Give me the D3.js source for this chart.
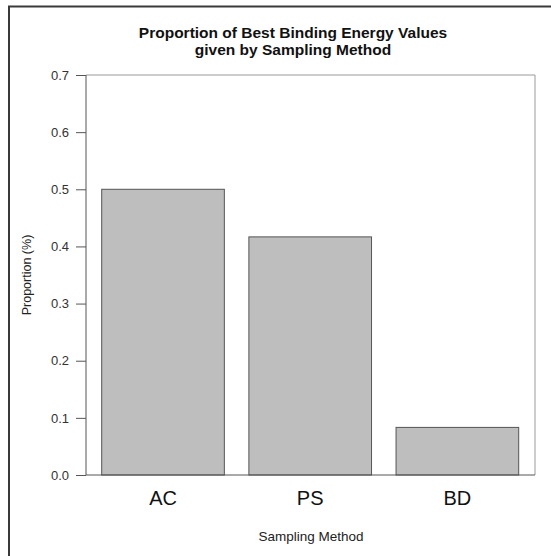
<!DOCTYPE html>
<html>
<head>
<meta charset="utf-8">
<script src="https://cdn.jsdelivr.net/npm/d3@7"></script>
<style>
  html, body { margin: 0; padding: 0; background: #fff; }
  svg { display: block; font-family: "Liberation Sans", Arial, Helvetica, sans-serif; }
</style>
</head>
<body>
<svg id="chart" width="551" height="556"></svg>
<script>
const categories = ["AC", "PS", "BD"];
const values = [0.5, 0.4167, 0.0833];
const yTicks = [0.0, 0.1, 0.2, 0.3, 0.4, 0.5, 0.6, 0.7];
const titleLines = ["Proportion of Best Binding Energy Values", "given by Sampling Method"];
const xLabel = "Sampling Method";
const yLabel = "Proportion (%)";

const svg = d3.select("#chart");
const plot = { left: 86, right: 535, top: 75, bottom: 475 };

// outer frame (only top and left edges visible in the image)
svg.append("rect")
  .attr("x", 9).attr("y", 6.5).attr("width", 600).attr("height", 600)
  .attr("fill", "none").attr("stroke", "#3a3a3a").attr("stroke-width", 2);

const x = d3.scaleBand()
  .domain(categories)
  .range([101.7, 518.7])
  .paddingInner(1 / 6)
  .paddingOuter(0);

const y = d3.scaleLinear().domain([0, 0.7]).range([plot.bottom, plot.top]);

// box (top + right)
svg.append("path")
  .attr("d", `M${plot.left},${y(0.7)}H${plot.right}V${y(0)}`)
  .attr("fill", "none").attr("stroke", "#9a9a9a").attr("stroke-width", 1);

// bars
svg.append("g").selectAll("rect")
  .data(categories.map((c, i) => ({ c, v: values[i] })))
  .join("rect")
  .attr("x", d => x(d.c))
  .attr("y", d => y(d.v))
  .attr("width", x.bandwidth())
  .attr("height", d => y(0) - y(d.v))
  .attr("fill", "#bebebe")
  .attr("stroke", "#555")
  .attr("stroke-width", 1);

// baseline
svg.append("line")
  .attr("x1", plot.left).attr("x2", plot.right)
  .attr("y1", y(0)).attr("y2", y(0))
  .attr("stroke", "#555").attr("stroke-width", 1);

// y axis
const yAxis = d3.axisLeft(y).tickValues(yTicks).tickFormat(d3.format(".1f"))
  .tickSize(10).tickPadding(7);
const gy = svg.append("g").attr("transform", `translate(${plot.left},0)`).call(yAxis);
gy.select(".domain").attr("stroke", "#555").attr("d", `M0,${y(0)}V${y(0.7)}`);
gy.selectAll(".tick line").attr("stroke", "#555");
gy.selectAll(".tick text")
  .attr("font-size", 13).attr("fill", "#333")
  .attr("font-family", "'Liberation Sans', Arial, sans-serif");

// x axis labels (no ticks)
const xAxis = d3.axisBottom(x).tickSize(0).tickPadding(16);
const gx = svg.append("g").attr("transform", `translate(0,${y(0)})`).call(xAxis);
gx.select(".domain").remove();
gx.selectAll(".tick text")
  .attr("font-size", 20).attr("fill", "#111")
  .attr("font-family", "'Liberation Sans', Arial, sans-serif");

// title
svg.append("g").selectAll("text")
  .data(titleLines)
  .join("text")
  .attr("x", 293)
  .attr("y", (d, i) => 38 + i * 17)
  .attr("text-anchor", "middle")
  .attr("font-size", 15.5)
  .attr("font-weight", "bold")
  .attr("fill", "#111")
  .text(d => d);

// axis titles
svg.append("text")
  .attr("x", 311).attr("y", 541)
  .attr("text-anchor", "middle")
  .attr("font-size", 13.5)
  .attr("fill", "#222")
  .text(xLabel);

svg.append("text")
  .attr("transform", `translate(31,275) rotate(-90)`)
  .attr("text-anchor", "middle")
  .attr("font-size", 12.5)
  .attr("fill", "#222")
  .text(yLabel);
</script>
</body>
</html>
